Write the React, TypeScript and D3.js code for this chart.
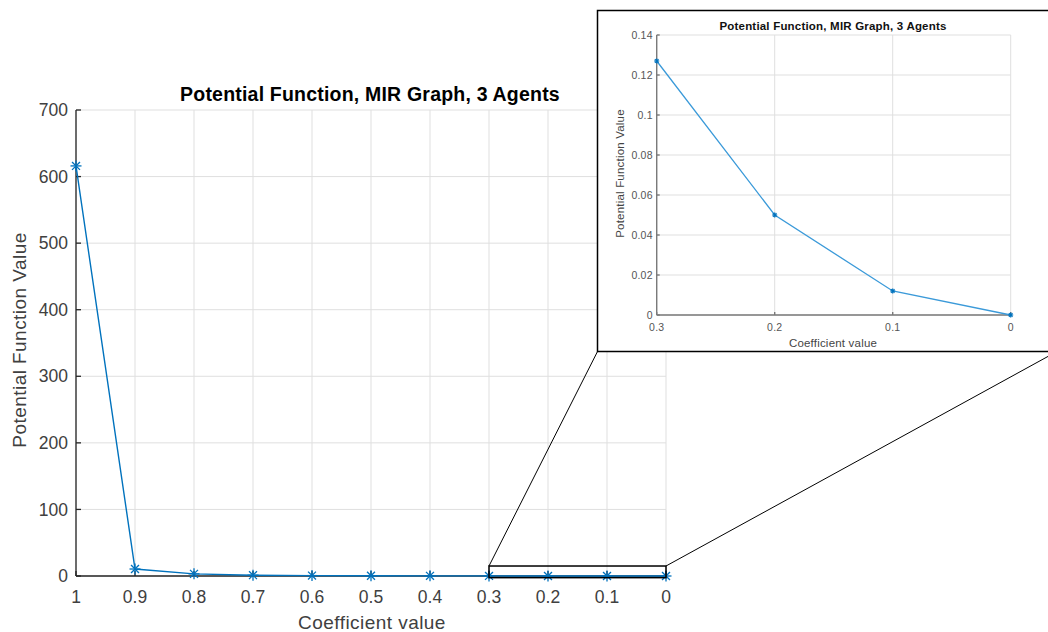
import React from "react";
import * as d3 from "d3";

// Coefficient sweep and the potential function value reached at each step
const coefficients = [1, 0.9, 0.8, 0.7, 0.6, 0.5, 0.4, 0.3, 0.2, 0.1, 0];
const potentialValues = [616, 10.5, 3.2, 1.2, 0.6, 0.35, 0.2, 0.127, 0.05, 0.012, 0];

const mainYTicks = [0, 100, 200, 300, 400, 500, 600, 700];
const mainXTicks = [1, 0.9, 0.8, 0.7, 0.6, 0.5, 0.4, 0.3, 0.2, 0.1, 0];
const insetYTicks = [0, 0.02, 0.04, 0.06, 0.08, 0.1, 0.12, 0.14];
const insetXTicks = [0.3, 0.2, 0.1, 0];

// region of the main axes that is magnified in the inset (data units)
const zoomX = [0.3, 0];
const zoomY = [-2.5, 15];

const TITLE = "Potential Function, MIR Graph, 3 Agents";
const X_LABEL = "Coefficient value";
const Y_LABEL = "Potential Function Value";

const W = 1048;
const H = 632;
const FONT = "'Liberation Sans', Arial, Helvetica, sans-serif";
const LINE = "#0072BD";
const AXIS = "#262626";
const GRID = "#dfdfdf";

const fmt = (v: number) => d3.format("~g")(v);

function Asterisk({ x, y, r, color, w }: { x: number; y: number; r: number; color: string; w: number }) {
  const d = r * 0.72;
  return (
    <g stroke={color} strokeWidth={w}>
      <line x1={x - r} y1={y} x2={x + r} y2={y} />
      <line x1={x} y1={y - r} x2={x} y2={y + r} />
      <line x1={x - d} y1={y - d} x2={x + d} y2={y + d} />
      <line x1={x - d} y1={y + d} x2={x + d} y2={y - d} />
    </g>
  );
}

export default function App() {
  // main axes
  const mx = d3.scaleLinear().domain([1, 0]).range([76, 666]);
  const my = d3.scaleLinear().domain([0, 700]).range([576, 110]);
  const mainPts = coefficients.map((c, i) => [c, potentialValues[i]] as [number, number]);
  const mainLine = d3
    .line<[number, number]>()
    .x((d) => mx(d[0]))
    .y((d) => my(d[1]))(mainPts);

  // inset axes
  const ix = d3.scaleLinear().domain([0.3, 0]).range([656.7, 1010.7]);
  const iy = d3.scaleLinear().domain([0, 0.14]).range([315, 35]);
  const insetPts = mainPts.filter((d) => d[0] <= 0.3 + 1e-9);
  const insetLine = d3
    .line<[number, number]>()
    .x((d) => ix(d[0]))
    .y((d) => iy(d[1]))(insetPts);

  const box = { x0: 597.5, y0: 10.5, x1: 1057, y1: 351.5 };

  const zx0 = mx(zoomX[0]);
  const zx1 = mx(zoomX[1]);
  const zy0 = my(zoomY[1]);
  const zy1 = my(zoomY[0]);

  return (
    <svg
      width={W}
      height={H}
      viewBox={`0 0 ${W} ${H}`}
      style={{ position: "absolute", left: 0, top: 0, background: "#fff" }}
      fontFamily={FONT}
    >
      <rect x={0} y={0} width={W} height={H} fill="#fff" />

      {/* main grid */}
      <g stroke={GRID} strokeWidth={1}>
        {mainXTicks.map((t) => (
          <line key={"gx" + t} x1={mx(t)} x2={mx(t)} y1={my(700)} y2={my(0)} />
        ))}
        {mainYTicks.map((t) => (
          <line key={"gy" + t} x1={mx(1)} x2={mx(0)} y1={my(t)} y2={my(t)} />
        ))}
      </g>

      {/* main axes lines and ticks */}
      <g stroke={AXIS} strokeWidth={1.3}>
        <line x1={mx(1)} x2={mx(1)} y1={my(700)} y2={my(0)} />
        <line x1={mx(1)} x2={mx(0)} y1={my(0)} y2={my(0)} />
        {mainYTicks.map((t) => (
          <line key={"ty" + t} x1={mx(1)} x2={mx(1) + 5} y1={my(t)} y2={my(t)} />
        ))}
        {mainXTicks.map((t) => (
          <line key={"tx" + t} x1={mx(t)} x2={mx(t)} y1={my(0)} y2={my(0) - 5} />
        ))}
      </g>

      <g fill="#404040" fontSize={17.5}>
        {mainYTicks.map((t) => (
          <text key={"ly" + t} x={mx(1) - 8} y={my(t)} dy="0.35em" textAnchor="end">
            {fmt(t)}
          </text>
        ))}
        {mainXTicks.map((t) => (
          <text key={"lx" + t} x={mx(t)} y={my(0) + 21} dy="0.35em" textAnchor="middle">
            {fmt(t)}
          </text>
        ))}
      </g>

      <text
        x={372}
        y={622}
        dy="0.35em"
        textAnchor="middle"
        fontSize={19}
        letterSpacing={0.45}
        fill="#404040"
      >
        {X_LABEL}
      </text>
      <text
        transform={`translate(19,340) rotate(-90)`}
        dy="0.35em"
        textAnchor="middle"
        fontSize={19}
        letterSpacing={0.45}
        fill="#404040"
      >
        {Y_LABEL}
      </text>
      <text
        x={370}
        y={94}
        dy="0.35em"
        textAnchor="middle"
        fontSize={19.5}
        letterSpacing={0.2}
        fontWeight="bold"
        fill="#000"
      >
        {TITLE}
      </text>

      {/* main series */}
      <path d={mainLine ?? ""} fill="none" stroke={LINE} strokeWidth={1.4} />
      {mainPts.map((d, i) => (
        <Asterisk key={"m" + i} x={mx(d[0])} y={my(d[1])} r={5.5} color={LINE} w={1.3} />
      ))}

      {/* zoom region and connectors */}
      <rect x={zx0} y={zy0} width={zx1 - zx0} height={zy1 - zy0} fill="none" stroke="#000" strokeWidth={1.5} />
      <line x1={zx0} y1={zy0} x2={box.x0} y2={box.y1} stroke="#000" strokeWidth={1} />
      <line x1={zx1} y1={zy0} x2={box.x1} y2={box.y1} stroke="#000" strokeWidth={1} />

      {/* inset */}
      <rect
        x={box.x0}
        y={box.y0}
        width={box.x1 - box.x0}
        height={box.y1 - box.y0}
        fill="#fff"
        stroke="#000"
        strokeWidth={1.5}
      />
      <g stroke={GRID} strokeWidth={1}>
        {insetXTicks.map((t) => (
          <line key={"igx" + t} x1={ix(t)} x2={ix(t)} y1={iy(0.14)} y2={iy(0)} />
        ))}
        {insetYTicks.map((t) => (
          <line key={"igy" + t} x1={ix(0.3)} x2={ix(0)} y1={iy(t)} y2={iy(t)} />
        ))}
      </g>
      <g stroke="#7a7a7a" strokeWidth={1.4}>
        <line x1={ix(0.3)} x2={ix(0.3)} y1={iy(0.14)} y2={iy(0)} />
        <line x1={ix(0.3)} x2={ix(0)} y1={iy(0)} y2={iy(0)} />
        {insetYTicks.map((t) => (
          <line key={"ity" + t} x1={ix(0.3)} x2={ix(0.3) + 3} y1={iy(t)} y2={iy(t)} />
        ))}
        {insetXTicks.map((t) => (
          <line key={"itx" + t} x1={ix(t)} x2={ix(t)} y1={iy(0)} y2={iy(0) - 3} />
        ))}
      </g>
      <g fill="#555" fontSize={10.5} letterSpacing={0.2}>
        {insetYTicks.map((t) => (
          <text key={"ily" + t} x={ix(0.3) - 4} y={iy(t)} dy="0.35em" textAnchor="end">
            {fmt(t)}
          </text>
        ))}
        {insetXTicks.map((t) => (
          <text key={"ilx" + t} x={ix(t)} y={iy(0) + 12} dy="0.35em" textAnchor="middle">
            {fmt(t)}
          </text>
        ))}
      </g>
      <text x={833} y={343} dy="0.35em" textAnchor="middle" fontSize={11.5} letterSpacing={0.2} fill="#444">
        {X_LABEL}
      </text>
      <text
        transform={`translate(620,173.5) rotate(-90)`}
        dy="0.35em"
        textAnchor="middle"
        fontSize={11.5}
        letterSpacing={0.2}
        fill="#444"
      >
        {Y_LABEL}
      </text>
      <text
        x={833}
        y={26}
        dy="0.35em"
        textAnchor="middle"
        fontSize={11.5}
        letterSpacing={0.2}
        fontWeight="bold"
        fill="#111"
      >
        {TITLE}
      </text>
      <path d={insetLine ?? ""} fill="none" stroke="#3b9ad9" strokeWidth={1.3} />
      {insetPts.map((d, i) => (
        <Asterisk key={"i" + i} x={ix(d[0])} y={iy(d[1])} r={2.5} color={LINE} w={1.2} />
      ))}
    </svg>
  );
}
